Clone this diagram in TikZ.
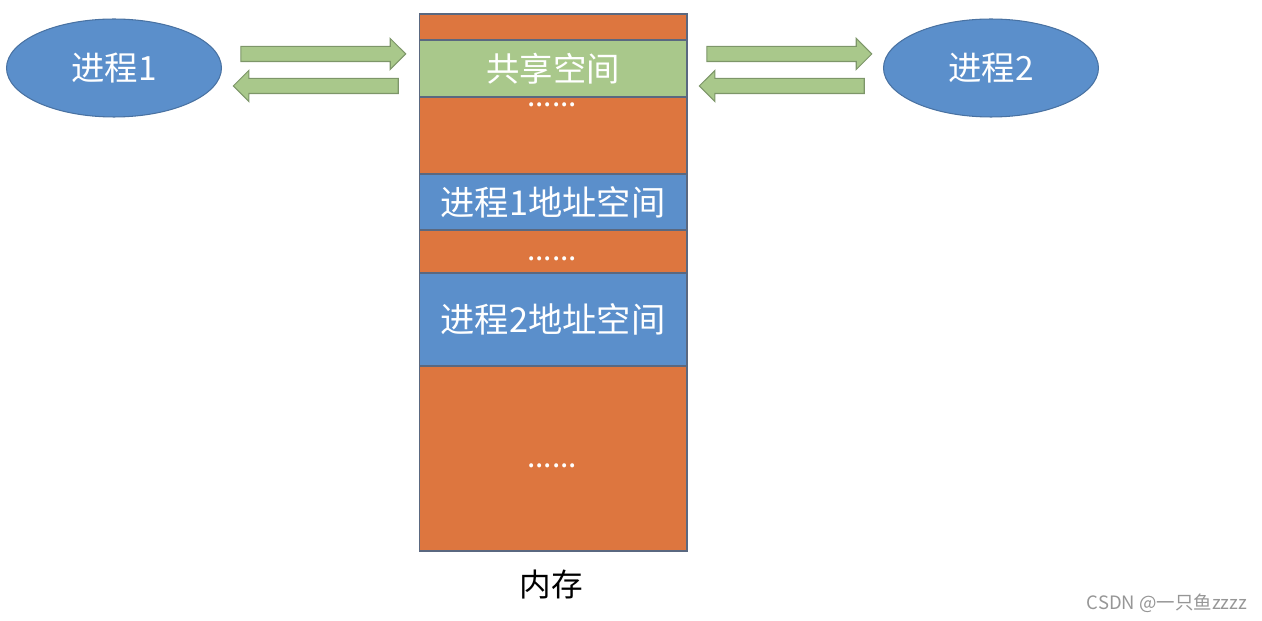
\documentclass[tikz,border=0pt]{standalone}
\usepackage{fontspec}
\setmainfont{Noto Sans CJK SC}
\usetikzlibrary{shapes.geometric,shapes.arrows}
\definecolor{memorange}{RGB}{221,118,63}
\definecolor{memblue}{RGB}{91,143,203}
\definecolor{memgreen}{RGB}{169,200,139}
\definecolor{memline}{RGB}{90,104,128}
\definecolor{arrline}{RGB}{125,150,105}
\definecolor{markgray}{RGB}{150,150,150}
\tikzset{
  band/.style={rectangle,draw=memline,line width=0.6pt,minimum width=5.36cm,inner sep=0pt,outer sep=0pt,text=white,font=\fontsize{19.5}{19.5}\selectfont},
  proc/.style={ellipse,fill=memblue,draw=memblue!80!black,line width=0.6pt,minimum width=4.3cm,minimum height=1.96cm,text=white,font=\fontsize{19}{19}\selectfont},
  flow/.style={single arrow,fill=memgreen,draw=arrline,line width=0.6pt,minimum height=3.3cm,minimum width=0.6cm,single arrow head extend=0.16cm,single arrow tip angle=90,inner sep=0.14cm},
  dots/.style={anchor=base,text=white,text height=3pt,text depth=0pt,inner sep=0pt,font=\fontsize{17}{17}\selectfont}
}
\begin{document}
\begin{tikzpicture}[x=0.02cm,y=-0.02cm]
\useasboundingbox (0,0) rectangle (1262,621);
% memory bands
\node[band,fill=memorange,minimum height=0.52cm] (top) at (553,27) {};
\node[band,fill=memgreen,minimum height=1.14cm,font=\fontsize{19}{19}\selectfont] (shared) at (553,68.5) {共享空间};
\node[band,fill=memorange,minimum height=1.54cm] (gap1) at (553,135.5) {};
\node[band,fill=memblue,minimum height=1.12cm] (space1) at (553,202) {进程1地址空间};
\node[band,fill=memorange,minimum height=0.86cm] (gap2) at (553,251.5) {};
\node[band,fill=memblue,minimum height=1.86cm] (space2) at (553,319.5) {进程2地址空间};
\node[band,fill=memorange,minimum height=3.7cm] (rest) at (553,458.5) {};
\node[dots] (dots1) at (552,107) {......};
\node[dots] (dots2) at (552,261) {......};
\node[dots] (dots3) at (552,468) {......};
\node[font=\fontsize{18}{18}\selectfont] (mem) at (551,585) {内存};
% processes
\node[proc] (p1) at (114,68) {进程1};
\node[proc] (p2) at (991,68) {进程2};
\node[flow] (p1to) at (319.5,54) {};
\node[flow,shape border rotate=180] (p1back) at (319.5,86) {};
\node[flow] (p2to) at (785.5,54) {};
\node[flow,shape border rotate=180] (p2back) at (785.5,86) {};
\node[text=markgray,font=\fontsize{10.5}{10.5}\selectfont] (mark) at (1167,603) {CSDN @一只鱼zzzz};
\end{tikzpicture}
\end{document}
